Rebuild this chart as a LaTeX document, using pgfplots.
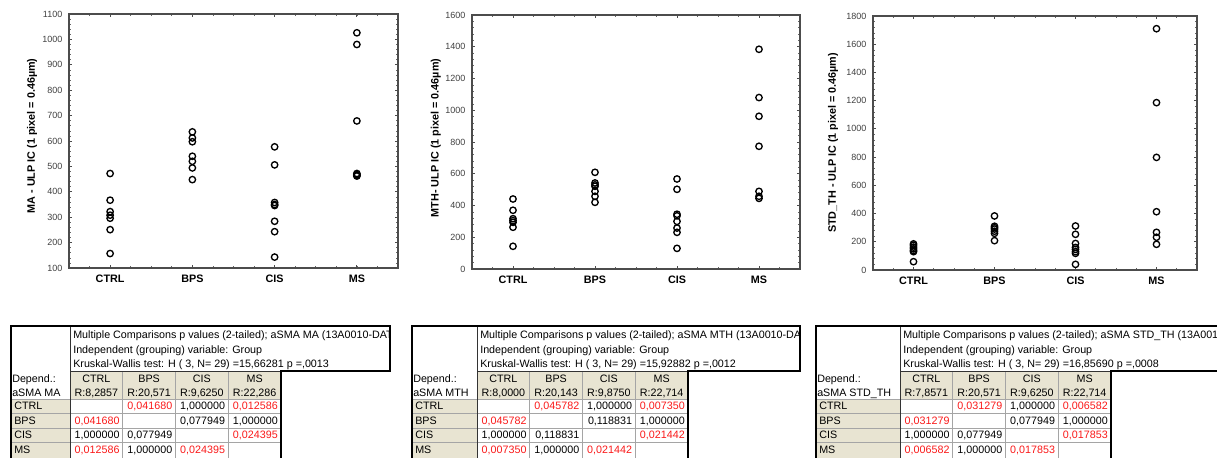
\documentclass[border=0pt]{standalone}
\usepackage{pgfplots}
\pgfplotsset{compat=1.18}
\usepackage{fontspec}
\setmainfont{Liberation Sans}
\definecolor{hdr}{RGB}{232,228,210}
\definecolor{pred}{RGB}{250,25,25}
\definecolor{gridc}{RGB}{165,165,165}

\pgfplotsset{
 dot/.style={only marks, mark=o, mark size=2.4pt, black, line width=1.0pt},
 stat/.style={
  scale only axis,
  height=190.5pt,
  xmin=0.5, xmax=4.5,
  xtick={1,2,3,4}, xticklabels={CTRL,BPS,CIS,MS},
  minor xtick={0.5,0.75,...,4.5},
  tick align=inside,
  major tick length=2.2pt,
  minor tick length=1.6pt,
  minor y tick num=4,
  axis line style={black!70, line width=0.8pt},
  every tick/.style={black!70, line width=0.6pt},
  every minor tick/.style={black!60, line width=0.5pt},
  tick label style={font=\fontsize{6.75}{7}\selectfont, text=black!75},
  y tick label style={xshift=-1.5pt},
  x tick label style={font=\bfseries\fontsize{8.1}{9}\selectfont, text=black, yshift=-2pt},
  /pgf/number format/assume math mode=true,
  /pgf/number format/1000 sep={},
  ylabel style={anchor=center, font=\bfseries\fontsize{8.1}{9}\selectfont},
  clip=false,
 }
}

\newcommand\cw{52.75}
\newcommand\tfont{\fontsize{8.05}{9.5}\selectfont}
% #1 Xa, #2 Xb, #3 Xr, #4 dep name, #5 KW stats, #6-#9 R values
\newcommand\ptable[9]{%
 \pgfmathsetmacro\Xe{#2+4*\cw}%
 \fill[hdr] (#2,371) rectangle (\Xe,399);
 \fill[hdr] (#1,399) rectangle (#2,470);
 \foreach \yy in {399,413.5,428,442.5} {\draw[gridc, line width=0.5pt] (#1,\yy) -- (\Xe,\yy);}
 \foreach \k in {1,2,3} {\draw[gridc, line width=0.5pt] (#2+\k*\cw,371) -- (#2+\k*\cw,470);}
 \draw[black!80, line width=0.6pt] (#2,326) -- (#2,470);
 \draw[black!80, line width=0.6pt] (#2,371) -- (\Xe,371);
 \draw[black, line width=1.5pt] (#1,470) -- (#1,326) -- (#3,326) -- (#3,371) -- (\Xe,371) -- (\Xe,470);
 \begin{scope}
  \clip (#2,327) rectangle (#3-1,370);
  \node[anchor=mid west, inner sep=0, font=\tfont] at (#2+3,335) {Multiple Comparisons p values (2-tailed); #4 (13A0010-DATA)};
  \node[anchor=mid west, inner sep=0, font=\tfont] at (#2+3,349.5) {Independent (grouping) variable: Group};
  \node[anchor=mid west, inner sep=0, font=\tfont] at (#2+3,363.5) {Kruskal-Wallis test: H ( 3, N= 29) =#5};
 \end{scope}
 \node[anchor=mid west, inner sep=0, font=\tfont] at (#1+1,379) {Depend.:};
 \node[anchor=mid west, inner sep=0, font=\tfont] at (#1+1,392.5) {#4};
 \node[anchor=mid, inner sep=0, font=\tfont] at (#2+0.5*\cw,379) {CTRL};
 \node[anchor=mid, inner sep=0, font=\tfont] at (#2+1.5*\cw,379) {BPS};
 \node[anchor=mid, inner sep=0, font=\tfont] at (#2+2.5*\cw,379) {CIS};
 \node[anchor=mid, inner sep=0, font=\tfont] at (#2+3.5*\cw,379) {MS};
 \node[anchor=mid, inner sep=0, font=\tfont] at (#2+0.5*\cw,392.5) {R:#6};
 \node[anchor=mid, inner sep=0, font=\tfont] at (#2+1.5*\cw,392.5) {R:#7};
 \node[anchor=mid, inner sep=0, font=\tfont] at (#2+2.5*\cw,392.5) {R:#8};
 \node[anchor=mid, inner sep=0, font=\tfont] at (#2+3.5*\cw,392.5) {R:#9};
 \node[anchor=mid west, inner sep=0, font=\tfont] at (#1+3,406.25) {CTRL};
 \node[anchor=mid west, inner sep=0, font=\tfont] at (#1+3,420.75) {BPS};
 \node[anchor=mid west, inner sep=0, font=\tfont] at (#1+3,435.25) {CIS};
 \node[anchor=mid west, inner sep=0, font=\tfont] at (#1+3,449.75) {MS};
}
% #1 Xb, #2 row, #3 col, #4 text, #5 colour
\newcommand\pv[5]{\node[anchor=mid east, inner sep=0, font=\tfont, text=#5] at (#1+#3*\cw-3,391.75+#2*14.5) {#4};}
% #1 Xb, a..f
\newcommand\pvals[7]{%
 \pv{#1}{1}{2}{#2}{pred}\pv{#1}{1}{3}{#3}{black}\pv{#1}{1}{4}{#4}{pred}%
 \pv{#1}{2}{1}{#2}{pred}\pv{#1}{2}{3}{#5}{black}\pv{#1}{2}{4}{#6}{black}%
 \pv{#1}{3}{1}{#3}{black}\pv{#1}{3}{2}{#5}{black}\pv{#1}{3}{4}{#7}{pred}%
 \pv{#1}{4}{1}{#4}{pred}\pv{#1}{4}{2}{#6}{black}\pv{#1}{4}{3}{#7}{pred}%
}

\begin{document}
\begin{tikzpicture}
\path[use as bounding box] (0,0) rectangle (912.75pt,-342.75pt);
\begin{scope}[x=0.75pt,y=-0.75pt]
 \coordinate (A1) at (69,14);
 \coordinate (A2) at (472,15);
 \coordinate (A3) at (873,16);
 \ptable{11}{70}{390}{aSMA MA}{15,66281 p =,0013}{8,2857}{20,571}{9,6250}{22,286}
 \pvals{70}{0,041680}{1,000000}{0,012586}{0,077949}{1,000000}{0,024395}
 \ptable{412}{477}{800}{aSMA MTH}{15,92882 p =,0012}{8,0000}{20,143}{9,8750}{22,714}
 \pvals{477}{0,045782}{1,000000}{0,007350}{0,118831}{1,000000}{0,021442}
 \ptable{816}{900}{1240}{aSMA STD\_TH}{16,85690 p =,0008}{7,8571}{20,571}{9,6250}{22,714}
 \pvals{900}{0,031279}{1,000000}{0,006582}{0,077949}{1,000000}{0,017853}
\end{scope}

\begin{axis}[stat, at={(A1)}, anchor=north west, width=246.75pt,
  ymin=100, ymax=1100, ytick={100,200,...,1100},
  ylabel={MA - ULP IC (1 pixel = 0.46µm)},
  ylabel style={at={(rel axis cs:-0.1125,0.52)}}]
\addplot[dot] coordinates {(1,472) (1,367) (1,322) (1,308) (1,296) (1,251) (1,157)};
\addplot[dot] coordinates {(2,636) (2,612) (2,597) (2,540) (2,520) (2,494) (2,448)};
\addplot[dot] coordinates {(3,577) (3,506) (3,358) (3,350) (3,346) (3,284) (3,243) (3,143)};
\addplot[dot] coordinates {(4,1026) (4,980) (4,679) (4,472) (4,468) (4,465) (4,462)};
\end{axis}

\begin{axis}[stat, at={(A2)}, anchor=north west, width=246pt,
  ymin=0, ymax=1600, ytick={0,200,...,1600},
  ylabel={MTH- ULP IC (1 pixel = 0.46µm)},
  ylabel style={at={(rel axis cs:-0.11,0.516)}}]
\addplot[dot] coordinates {(1,441) (1,370) (1,317) (1,305) (1,294) (1,263) (1,143)};
\addplot[dot] coordinates {(2,609) (2,542) (2,530) (2,521) (2,489) (2,458) (2,420)};
\addplot[dot] coordinates {(3,567) (3,502) (3,345) (3,335) (3,300) (3,258) (3,231) (3,130)};
\addplot[dot] coordinates {(4,1384) (4,1080) (4,962) (4,773) (4,489) (4,458) (4,445)};
\end{axis}

\begin{axis}[stat, at={(A3)}, anchor=north west, width=243pt,
  ymin=0, ymax=1800, ytick={0,200,...,1800},
  ylabel={STD\_TH - ULP IC (1 pixel = 0.46µm)},
  ylabel style={at={(rel axis cs:-0.1235,0.5)}}]
\addplot[dot] coordinates {(1,185) (1,175) (1,162) (1,150) (1,138) (1,130) (1,59)};
\addplot[dot] coordinates {(2,383) (2,310) (2,300) (2,290) (2,275) (2,260) (2,208)};
\addplot[dot] coordinates {(3,312) (3,253) (3,188) (3,160) (3,146) (3,130) (3,118) (3,40)};
\addplot[dot] coordinates {(4,1710) (4,1186) (4,798) (4,413) (4,267) (4,232) (4,182)};
\end{axis}
\end{tikzpicture}
\end{document}
